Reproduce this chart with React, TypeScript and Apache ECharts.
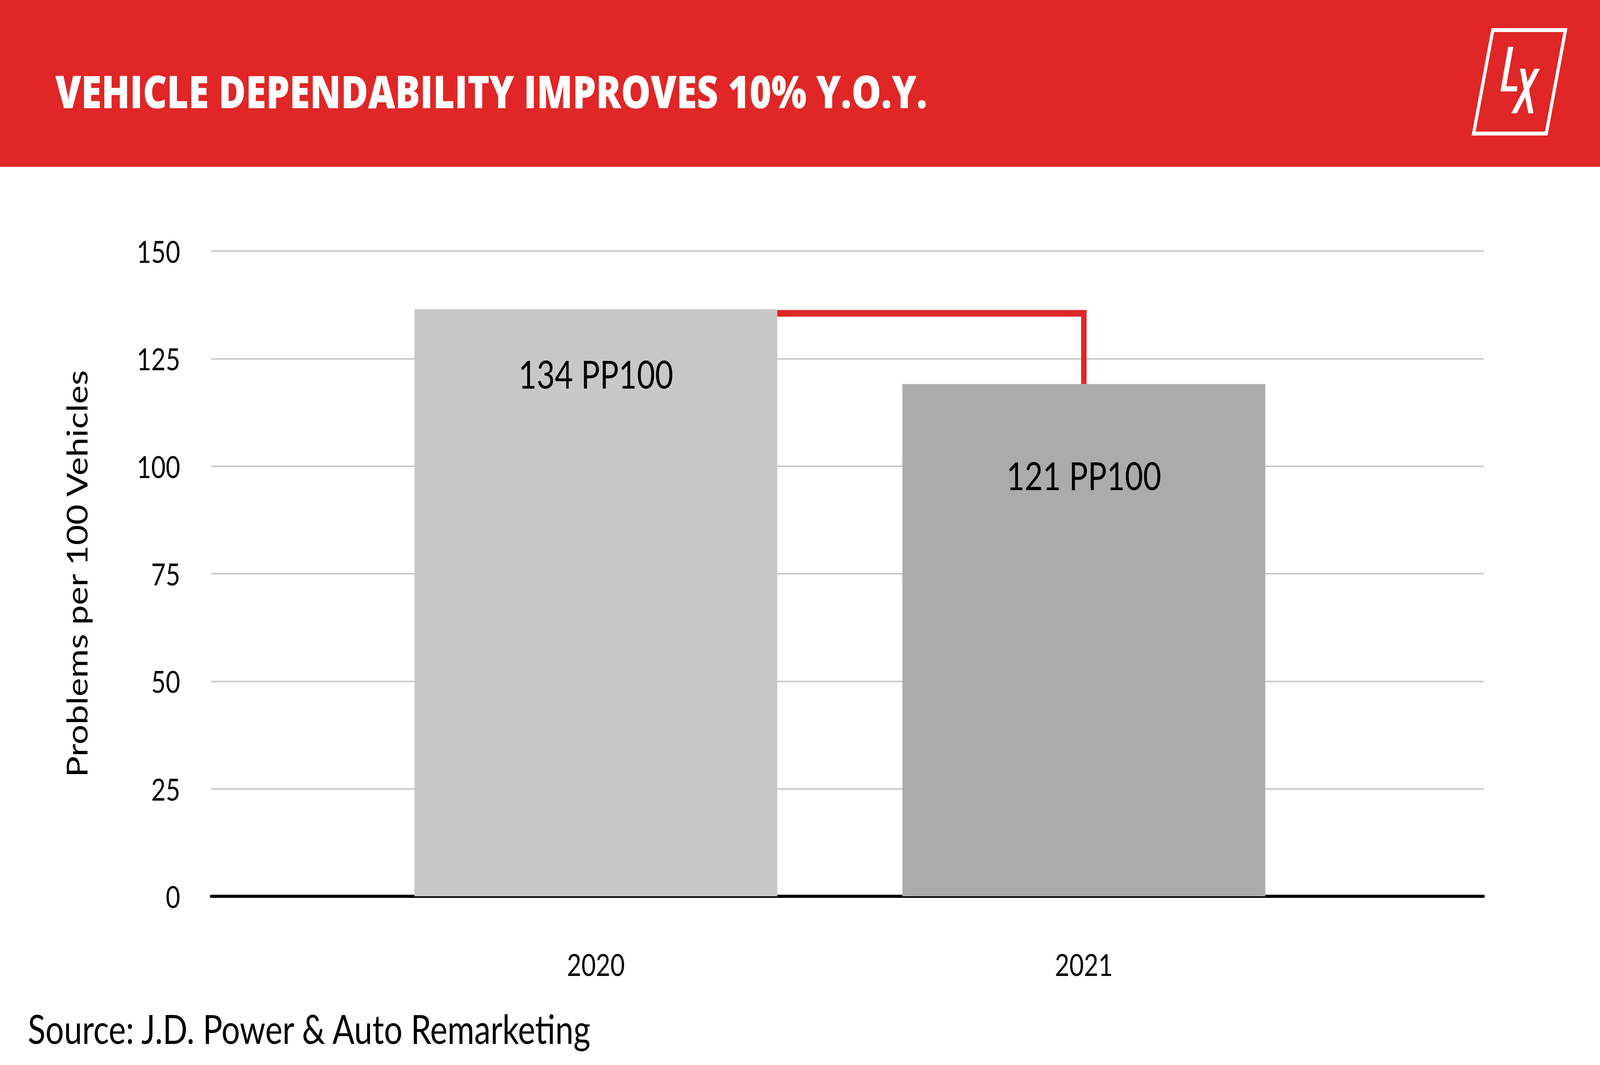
import { useEffect, useRef } from 'react';
import * as echarts from 'echarts';

// values as drawn in the picture, plus the reported figures printed on the bars
const years = ['2020', '2021'];
const barValues = [136.5, 119.1];
const reportedPP100 = [134, 121];
const yMin = 0;
const yMax = 150;
const yStep = 25;

const titleText = 'VEHICLE DEPENDABILITY IMPROVES 10% Y.O.Y.';
const axisName = 'Problems per 100 Vehicles';
const sourceText = 'Source: J.D. Power & Auto Remarketing';

const W = 5000;
const H = 2727;
const RED = '#e02626';
const BAR_COLORS = ['#c8c8c8', '#ababab'];
const BAR_W = 1134;
const LABEL_OFFSETS = [166, 234];
const FONT = 'Lato, "Noto Sans", sans-serif';

export default function App() {
  const chartRef = useRef<HTMLDivElement>(null);
  // the browser may cap the viewport width, so squeeze the 5000px layout to fit it
  const k = typeof window !== 'undefined' ? Math.min(1, window.innerWidth / W) : 1;

  useEffect(() => {
    if (!chartRef.current) return;
    const chart = echarts.init(chartRef.current, undefined, { renderer: 'svg' });

    const option: echarts.EChartsOption = {
      animation: false,
      backgroundColor: '#ffffff',
      grid: {
        left: 660,
        right: 364,
        top: 643,
        bottom: 432,
      },
      xAxis: {
        type: 'value',
        min: -0.7882,
        max: 1.819,
        splitLine: { show: false },
        axisTick: { show: false },
        axisLine: {
          lineStyle: { color: '#000', width: 8 },
        },
        axisLabel: {
          customValues: [0, 1],
          formatter: (v: number) => years[Math.round(v)] ?? '',
          color: '#000',
          fontSize: 78,
          fontFamily: FONT,
          margin: 135,
        },
      } as any,
      yAxis: {
        type: 'value',
        min: yMin,
        max: yMax,
        interval: yStep,
        name: axisName,
        nameLocation: 'middle',
        nameGap: 376,
        nameTextStyle: {
          color: '#000',
          fontSize: 90,
          fontFamily: FONT,
        },
        axisLine: { show: false },
        axisTick: { show: false },
        axisLabel: {
          color: '#000',
          fontSize: 78,
          fontFamily: FONT,
          margin: 97,
        },
        splitLine: {
          lineStyle: { color: '#cacaca', width: 4 },
        },
      },
      series: [
        {
          type: 'bar',
          barWidth: BAR_W,
          z: 2,
          data: barValues.map((v, i) => ({
            value: [i, v],
            itemStyle: { color: BAR_COLORS[i] },
            label: { position: ['50%', LABEL_OFFSETS[i]] },
          })),
          label: {
            show: true,
            formatter: (p: any) => `${reportedPP100[p.dataIndex]} PP100`,
            align: 'center',
            verticalAlign: 'middle',
            color: '#000',
            fontSize: 98,
            fontFamily: FONT,
          },
        } as any,
        {
          // red step connector from the 2020 bar top down to the 2021 bar
          type: 'custom',
          z: 3,
          data: [[0, barValues[0], 1, barValues[1]]],
          renderItem: (_params: any, api: any) => {
            const a = api.coord([api.value(0), api.value(1)]);
            const b = api.coord([api.value(2), api.value(3)]);
            const y = a[1] + 10.5;
            return {
              type: 'polyline',
              shape: {
                points: [
                  [a[0] + BAR_W / 2, y],
                  [b[0], y],
                  [b[0], b[1]],
                ],
              },
              style: {
                stroke: RED,
                lineWidth: 17,
                fill: null,
                lineJoin: 'miter',
                lineCap: 'butt',
              },
            };
          },
        } as any,
      ],
      graphic: [
        {
          type: 'rect',
          shape: { x: 0, y: 0, width: W, height: 427 },
          style: { fill: RED },
          z: 1,
        },
        {
          type: 'text',
          x: 173,
          y: 232,
          z: 2,
          style: {
            text: titleText,
            fill: '#fff',
            fontSize: 116,
            fontWeight: 800,
            fontFamily: '"Open Sans", Lato, sans-serif',
            verticalAlign: 'middle',
          },
        },
        // logo: slanted frame with L and X
        {
          type: 'polygon',
          z: 2,
          shape: {
            points: [
              [4665, 77],
              [4892, 77],
              [4832, 342],
              [4605, 342],
            ],
          },
          style: { fill: 'none', stroke: '#fff', lineWidth: 10, lineJoin: 'miter' },
        },
        {
          type: 'polygon',
          z: 2,
          shape: {
            points: [
              [4713, 120],
              [4729, 120],
              [4707, 221],
              [4742, 221],
              [4740, 234],
              [4689, 234],
            ],
          },
          style: { fill: '#fff' },
        },
        {
          type: 'polygon',
          z: 2,
          shape: {
            points: [
              [4750, 176],
              [4766, 176],
              [4792, 290],
              [4776, 290],
            ],
          },
          style: { fill: '#fff' },
        },
        {
          type: 'polygon',
          z: 2,
          shape: {
            points: [
              [4795, 176],
              [4812, 176],
              [4740, 290],
              [4723, 290],
            ],
          },
          style: { fill: '#fff' },
        },
        {
          type: 'text',
          x: 87,
          y: 2634,
          style: {
            text: sourceText,
            fill: '#000',
            fontSize: 102,
            fontFamily: FONT,
            verticalAlign: 'middle',
          },
        },
      ],
    };

    chart.setOption(option);

    return () => {
      chart.dispose();
    };
  }, []);

  return (
    <div
      style={{
        position: 'fixed',
        left: 0,
        top: 0,
        width: '100vw',
        height: '100vh',
        overflow: 'hidden',
        background: '#fff',
      }}
    >
      <div
        ref={chartRef}
        style={{
          position: 'absolute',
          left: 0,
          top: 0,
          width: W,
          height: H,
          transform: `scale(${k}, 1)`,
          transformOrigin: '0 0',
        }}
      />
    </div>
  );
}
